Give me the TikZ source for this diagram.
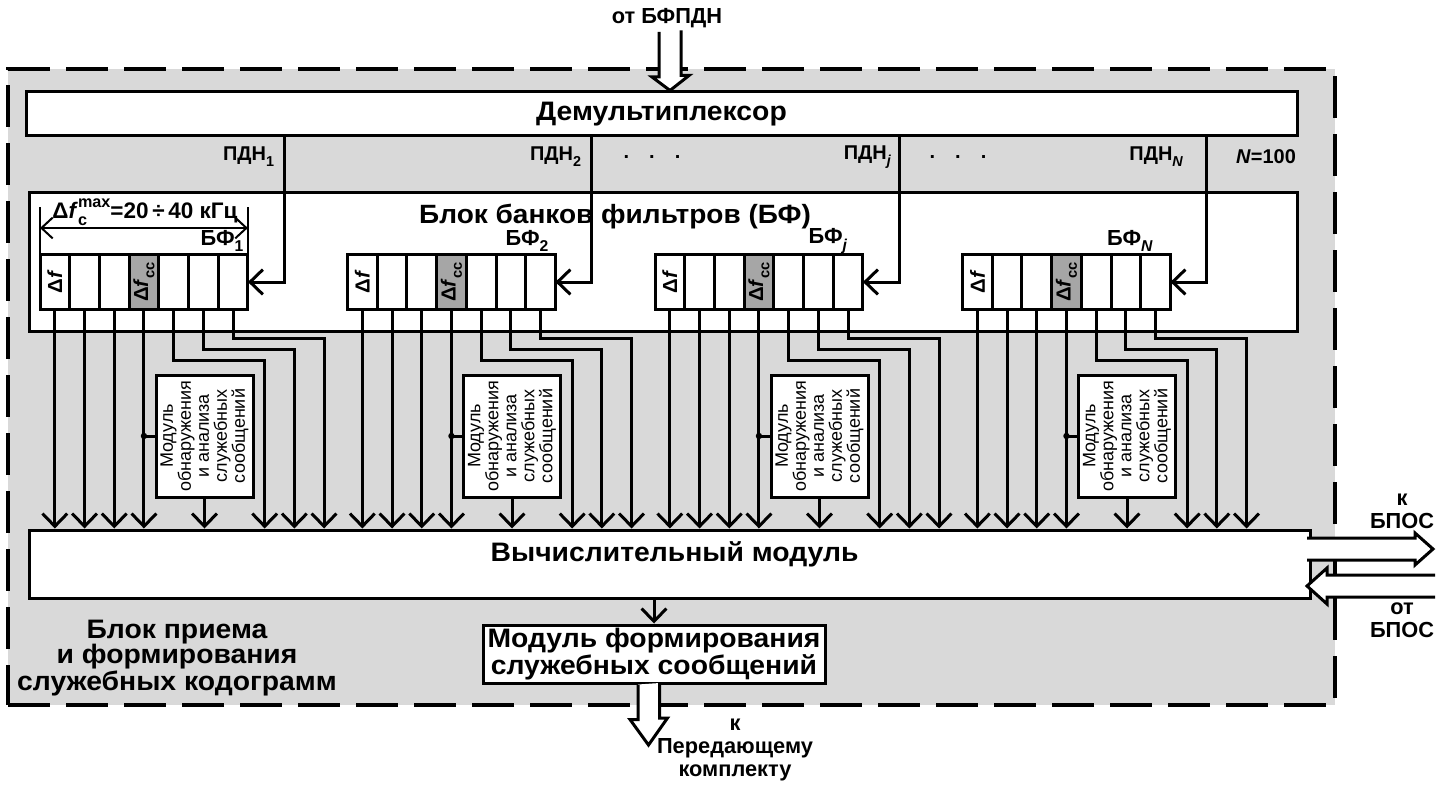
\documentclass[tikz,border=0pt]{standalone}
\usepackage{fontspec}
\setmainfont{Liberation Sans}
\newfontfamily\shirokii{Liberation Sans}[FakeStretch=1.06]
\usetikzlibrary{
  arrows.meta,
  positioning,
  calc,
  fit
}
\definecolor{fon}{RGB}{217,217,217}
\definecolor{seryi}{RGB}{166,166,166}
\newcommand{\niz}[1]{\raisebox{-0.3em}{\scalebox{0.72}{#1}}}
\newcommand{\verh}[1]{\raisebox{0.5em}{\scalebox{0.72}{#1}}}
\newcommand{\indeks}[2]{\rlap{\niz{#1}}\verh{#2}}

\begin{document}
\begin{tikzpicture}[
      x=0.25mm, y=-0.25mm,
      every node/.style={font=\bfseries},
      blok/.style={draw, fill=white, line width=0.75mm, inner sep=0pt},
      yach/.style={draw, line width=0.75mm, inner sep=0pt, outer sep=0pt,
                   minimum width=7.425mm, minimum height=13.5mm},
      yachtekst/.style={rotate=90, font=\fontsize{14.5}{14.5}\selectfont\bfseries},
      liniya/.style={line width=0.75mm},
      strelka/.style={-{Straight Barb[length=3.2mm, width=6.2mm]}, line width=0.75mm},
      razmer/.style={{Straight Barb[length=2.8mm, width=5.2mm]}-{Straight Barb[length=2.8mm, width=5.2mm]},
                     line width=0.5mm},
      polaya/.style={draw, fill=white, line width=0.75mm},
      krupno/.style={font=\shirokii\fontsize{19}{17.8}\selectfont\bfseries, align=center},
      sredne/.style={font=\fontsize{15.5}{16.4}\selectfont\bfseries, align=center},
      melko/.style={font=\fontsize{14.2}{15}\selectfont\bfseries},
      modul/.style={font=\fontsize{12.8}{12.8}\selectfont, align=center}
  ]
      \useasboundingbox (0,0) rectangle (1452,788);

      % Блок приема и формирования служебных кодограмм
      \node[fit={(8,69) (1335,705)}, inner sep=0pt, draw, fill=fon, line width=1mm,
            dash pattern=on 10.5mm off 4mm] (bpfsk) {};
      \node[krupno] (bpfsktekst) at (177,658) {Блок приема\\и формирования\\служебных кодограмм};

      % Демультиплексор
      \node[blok, fit={(26,92) (1297,136)}] (demux) {};
      \node[krupno] (demuxtekst) at (demux.center) {Демультиплексор};
      \node[sredne] (otbfpdn) at (667,18) {от БФПДН};
      \coordinate (vhod) at (670,32);
      \draw[polaya] (vhod) ++(-11,0) -- ++(0,45) -- ++(-7,0) -- (vhod |- demux.north)
                    -- ++(19,-15) -- ++(-8,0) -- ++(0,-45);

      % Блок банков фильтров
      \node[blok, fit={(29,193) (1297,331)}] (bf) {};
      \node[krupno, font=\shirokii\fontsize{18.8}{18.8}\selectfont\bfseries] (bftekst) at (615,217)
            {Блок банков фильтров (БФ)};

      % Вычислительный модуль
      \node[blok, fit={(29,530) (1310,598)}] (vm) {};
      \node[krupno] (vmtekst) at ($(vm.center)+(5,-10)$) {Вычислительный модуль};

      % Модуль формирования служебных сообщений
      \node[blok, fit={(483,625) (825,683)}] (mfs) {};
      \node[krupno, font=\shirokii\fontsize{19}{19.2}\selectfont\bfseries] (mfstekst) at (mfs.center)
            {Модуль формирования\\служебных сообщений};
      \draw[strelka] (vm.south -| mfs) -- (mfs.north);
      \coordinate (vyhod) at (648.5,745);
      \draw[polaya] (mfs.south -| vyhod) ++(-10.5,0) -- ++(0,35) -- ++(-8,0) -- (vyhod)
                    -- ++(19,-27) -- ++(-8,0) -- ++(0,-35);
      \node[sredne] (kpk) at (735,750) {к\\Передающему\\комплекту};

      % Связь с БПОС
      \coordinate (tkbpos) at (1433,549);
      \coordinate (totbpos) at (1307,586);
      \draw[polaya] (tkbpos) ++(-126,-11) -- ++(108,0) -- ++(0,-5) -- (tkbpos)
                    -- ++(-18,16) -- ++(0,-5) -- ++(-108,0);
      \draw[polaya] (totbpos) ++(128,-11) -- ++(-108,0) -- ++(0,-7) -- (totbpos)
                    -- ++(20,18) -- ++(0,-7) -- ++(108,0);
      \node[sredne] (kbpos) at (1402,511) {к\\БПОС};
      \node[sredne] (otbpos) at (1402,620) {от\\БПОС};

      % Каналы ПДН и банки фильтров
      \node[melko] (tochki1) at (652,157) {.\hspace{5mm}.\hspace{5mm}.};
      \node[melko] (tochki2) at (958,157) {.\hspace{5mm}.\hspace{5mm}.};
      \node[melko] (nsto) at (1266,157) {\textit{N}=100};

      \foreach \k/\s/\xb/\xp in {0/1/222/279, 1/2/527/586, 2/\textit{j}/828/896, 3/\textit{N}/1130/1188} {
        \foreach \i/\c in {1/white, 2/white, 3/white, 4/seryi, 5/white, 6/white, 7/white}
          \node[yach, fill=\c] (b\k c\i) at ({40+307.5*\k+29.7*\i-14.85},282) {};
        \node[yachtekst] (df\k) at (b\k c1) {Δ\textit{f}};
        \node[yachtekst] (dfcc\k) at (b\k c4) {Δ\textit{f}\niz{cc}};
        \node[sredne] (lb\k) at (\xb,241) {БФ\niz{\s}};

        \coordinate (pdn\k) at ({284+307.5*\k},136);
        \node[melko, anchor=east] (lp\k) at (\xp,157) {ПДН\niz{\s}};
        \draw[strelka] (pdn\k) |- (b\k c7.east);

        % модуль обнаружения и анализа
        \node[blok, fit={({156+307.5*\k},375) ({253+307.5*\k},497)}] (mod\k) {};
        \node[modul, rotate=90] (modtekst\k) at (mod\k)
              {Модуль\\обнаружения\\и анализа\\служебных\\сообщений};
        \draw[liniya] (b\k c4.south |- mod\k.west) -- (mod\k.west);
        \fill (b\k c4.south |- mod\k.west) circle (0.8mm);
        \draw[strelka] (mod\k.south) -- (mod\k.south |- vm.north);

        % выходы банка
        \foreach \i in {1,...,4}
          \draw[strelka] (b\k c\i.south) -- (b\k c\i.south |- vm.north);
        \foreach \i/\h in {5/51, 6/40, 7/29}
          \draw[strelka] (b\k c\i.south) -- ++(0,\h) -- ++(91,0) coordinate (v\k\i)
                         -- (v\k\i |- vm.north);
      }

      % Ширина полосы банка
      \draw[line width=0.5mm] (b0c1.north west) -- ++(0,-48);
      \draw[line width=0.5mm] (b0c7.north east) -- ++(0,-48);
      \draw[razmer] ($(b0c1.north west)+(0,-27)$) -- ($(b0c7.north east)+(0,-27)$);
      \node[sredne, font=\fontsize{16}{16}\selectfont\bfseries] (dfmax) at (145,212)
            {Δ\textit{f}\indeks{c}{max}=20\,÷\,40 кГц};
  \end{tikzpicture}
\end{document}
